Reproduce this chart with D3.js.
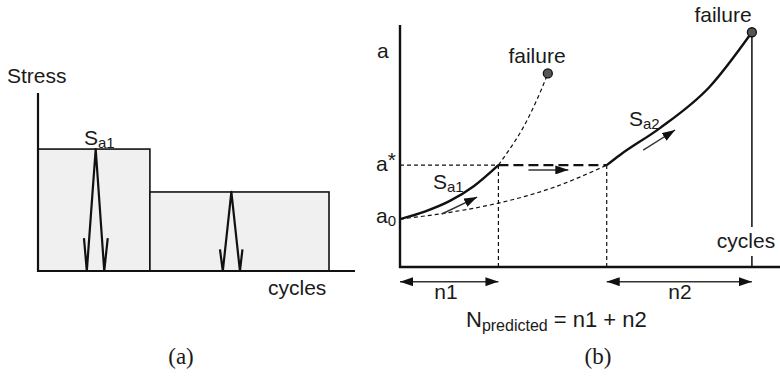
<!DOCTYPE html>
<html><head><meta charset="utf-8">
<script src="https://cdn.jsdelivr.net/npm/d3@7"></script>
<style>body{margin:0;background:#fff}svg{display:block}text{font-family:"Liberation Sans",Arial,sans-serif;fill:#1a1a1a}</style>
</head><body>
<svg id="c" width="780" height="382"></svg>
<script>
// ---- Panel (a): block loading (cycles 0..100, stress 0..100) ----
const blockStarts = [0, 35.3];
const blockEnds = [35.3, 91.8];
const blockLevels = [68.5, 44.4];
const cycle1X = [14.5, 15.4, 18.2, 20.9, 22.0];
const cycle1Y = [18.5, 0, 68.5, 0, 18.5];
const cycle2X = [57.4, 58.3, 61.0, 63.7, 64.5];
const cycle2Y = [12.2, 0, 44.4, 0, 12.2];
// ---- Panel (b): crack growth (cycles 0..100, crack length 0..100) ----
const a0 = 19.8, aStar = 42.1;
const n1End = 25.9, n2Start = 54.4, fail2X = 92.6;
const sa1X = [0, 6.5, 13.0, 19.4, 25.9];
const sa1Y = [19.8, 22.9, 27.2, 33.4, 42.1];
const fail1PathX = [25.9, 31.6, 36.0, 38.9];
const fail1PathY = [42.1, 55.4, 69.0, 80.0];
const lowerX = [0, 13.6, 25.9, 40.8, 54.4];
const lowerY = [19.8, 22.7, 26.4, 33.1, 42.1];
const sa2X = [54.4, 57.9, 68.4, 81.5, 92.6];
const sa2Y = [42.1, 46.3, 57.4, 74.5, 97.0];
const fail1 = [38.9, 80.0];
const fail2 = [92.6, 97.0];

const svg = d3.select("#c");
const defs = svg.append("defs");
function marker(id, len, w, orient){
  defs.append("marker").attr("id", id).attr("viewBox", `0 0 ${len} ${w}`)
    .attr("refX", len).attr("refY", w/2).attr("markerWidth", len).attr("markerHeight", w)
    .attr("markerUnits", "userSpaceOnUse").attr("orient", orient)
    .append("path").attr("d", `M0,0L${len},${w/2}L0,${w}Z`).attr("fill", "#111");
}
marker("ah", 13, 9, "auto");
marker("ahs", 13, 9, "auto-start-reverse");

// Panel a
const xA = d3.scaleLinear().domain([0, 100]).range([38, 355]);
const yA = d3.scaleLinear().domain([0, 100]).range([271, 93]);
const gA = svg.append("g");
blockLevels.forEach((lv, i) => {
  gA.append("rect").attr("x", xA(blockStarts[i])).attr("y", yA(lv))
    .attr("width", xA(blockEnds[i]) - xA(blockStarts[i])).attr("height", yA(0) - yA(lv))
    .attr("fill", "#f0f0f0").attr("stroke", "#111").attr("stroke-width", 1.6);
});
const lineA = d3.line().x(d => xA(d[0])).y(d => yA(d[1]));
[[cycle1X, cycle1Y], [cycle2X, cycle2Y]].forEach(([xs, ys]) => {
  gA.append("path").attr("d", lineA(xs.map((x, i) => [x, ys[i]])))
    .attr("fill", "none").attr("stroke", "#111").attr("stroke-width", 2.2).attr("stroke-linejoin", "round");
});
gA.append("line").attr("x1", xA(0)).attr("x2", xA(0)).attr("y1", yA(100)).attr("y2", yA(0) + 1)
  .attr("stroke", "#111").attr("stroke-width", 2.2);
gA.append("line").attr("x1", xA(0) - 1).attr("x2", xA(100)).attr("y1", yA(0)).attr("y2", yA(0))
  .attr("stroke", "#111").attr("stroke-width", 2.2);
gA.append("text").attr("x", 7).attr("y", 83).attr("font-size", 21).text("Stress");
gA.append("text").attr("x", 268).attr("y", 295).attr("font-size", 21).text("cycles");
const sa1a = gA.append("text").attr("x", 84).attr("y", 145).attr("font-size", 21);
sa1a.append("tspan").text("S");
sa1a.append("tspan").attr("font-size", 15).attr("dy", 3).text("a1");

// Panel b
const xB = d3.scaleLinear().domain([0, 100]).range([400, 780]);
const yB = d3.scaleLinear().domain([0, 100]).range([267, 25]);
const gB = svg.append("g");
const lineB = d3.line().x(d => xB(d[0])).y(d => yB(d[1])).curve(d3.curveMonotoneX);
const lineV = d3.line().x(d => xB(d[0])).y(d => yB(d[1])).curve(d3.curveMonotoneY);
const zip = (xs, ys) => xs.map((x, i) => [x, ys[i]]);
const thin = {stroke: "#111", w: 1.2, dash: "4,3"};
function seg(x1, y1, x2, y2, st){
  return gB.append("line").attr("x1", xB(x1)).attr("y1", yB(y1)).attr("x2", xB(x2)).attr("y2", yB(y2))
    .attr("stroke", st.stroke).attr("stroke-width", st.w).attr("stroke-dasharray", st.dash || null);
}
seg(0, aStar, n1End, aStar, thin);
seg(n1End, aStar, n1End, 0, thin);
seg(n2Start, aStar, n2Start, 0, thin);
seg(n1End, aStar, n2Start, aStar, {stroke: "#111", w: 2.2, dash: "10,5"});
gB.append("path").attr("d", lineV(zip(fail1PathX, fail1PathY))).attr("fill", "none")
  .attr("stroke", "#111").attr("stroke-width", 1.2).attr("stroke-dasharray", "4,3");
gB.append("path").attr("d", lineB(zip(lowerX, lowerY))).attr("fill", "none")
  .attr("stroke", "#111").attr("stroke-width", 1.2).attr("stroke-dasharray", "4,3");
gB.append("path").attr("d", lineB(zip(sa1X, sa1Y))).attr("fill", "none")
  .attr("stroke", "#111").attr("stroke-width", 2.4);
gB.append("path").attr("d", lineB(zip(sa2X, sa2Y))).attr("fill", "none")
  .attr("stroke", "#111").attr("stroke-width", 2.4);
seg(fail2X, fail2[1], fail2X, 0, {stroke: "#333", w: 1.8});
gB.append("line").attr("x1", xB(0)).attr("x2", xB(0)).attr("y1", yB(100)).attr("y2", yB(0) + 1)
  .attr("stroke", "#111").attr("stroke-width", 2.4);
gB.append("line").attr("x1", xB(0) - 1).attr("x2", xB(100)).attr("y1", yB(0)).attr("y2", yB(0))
  .attr("stroke", "#111").attr("stroke-width", 2.4);
[fail1, fail2].forEach(p => gB.append("circle").attr("cx", xB(p[0])).attr("cy", yB(p[1])).attr("r", 4.5)
  .attr("fill", "#555").attr("stroke", "#111").attr("stroke-width", 1.3));
function arrow(p1, p2, st){
  gB.append("line").attr("x1", p1[0]).attr("y1", p1[1]).attr("x2", p2[0]).attr("y2", p2[1])
    .attr("stroke", "#333").attr("stroke-width", 1.4).attr("marker-end", "url(#ah)")
    .attr("marker-start", st ? "url(#ahs)" : null);
}
arrow([xB(11.0), yB(21.9)], [xB(20.3), yB(28.9)]);
arrow([xB(33.8), yB(40.1)], [xB(44.3), yB(40.1)]);
arrow([xB(64.0), yB(48.3)], [xB(72.4), yB(56.6)]);
const spanY = 281.7;
arrow([xB(0), spanY], [xB(n1End), spanY], true);
arrow([xB(n2Start), spanY], [xB(fail2X), spanY], true);
const T = (x, y, s, anchor) => gB.append("text").attr("x", x).attr("y", y).attr("font-size", 21)
  .attr("text-anchor", anchor || "start").text(s);
T(377, 58, "a");
T(537, 63, "failure", "middle");
T(723, 22, "failure", "middle");
const ast = gB.append("text").attr("x", 376).attr("y", 171).attr("font-size", 21);
ast.append("tspan").text("a"); ast.append("tspan").attr("dy", -4).text("*");
const az = gB.append("text").attr("x", 376).attr("y", 223).attr("font-size", 21);
az.append("tspan").text("a"); az.append("tspan").attr("font-size", 15).attr("dy", 3).text("0");
const s1 = gB.append("text").attr("x", 433).attr("y", 189).attr("font-size", 21);
s1.append("tspan").text("S"); s1.append("tspan").attr("font-size", 15).attr("dy", 3).text("a1");
const s2 = gB.append("text").attr("x", 629).attr("y", 126).attr("font-size", 21);
s2.append("tspan").text("S"); s2.append("tspan").attr("font-size", 15).attr("dy", 3).text("a2");
const cyc = T(746, 248, "cycles", "middle");
const bb = cyc.node().getBBox();
gB.insert("rect", "text").attr("x", bb.x - 1).attr("y", bb.y - 2).attr("width", bb.width + 2).attr("height", bb.height + 6).attr("fill", "#fff");
T(446, 299, "n1", "middle");
T(680, 299, "n2", "middle");
const np = gB.append("text").attr("x", 466).attr("y", 327).attr("font-size", 22);
np.append("tspan").text("N");
np.append("tspan").attr("font-size", 16).attr("dy", 4).text("predicted");
np.append("tspan").attr("dy", -4).text(" = n1 + n2");
svg.append("text").attr("x", 181).attr("y", 364).attr("font-size", 23).attr("text-anchor", "middle")
  .style("font-family", "'Liberation Serif','Times New Roman',serif").text("(a)");
svg.append("text").attr("x", 598).attr("y", 364).attr("font-size", 23).attr("text-anchor", "middle")
  .style("font-family", "'Liberation Serif','Times New Roman',serif").text("(b)");
</script>
</body></html>
